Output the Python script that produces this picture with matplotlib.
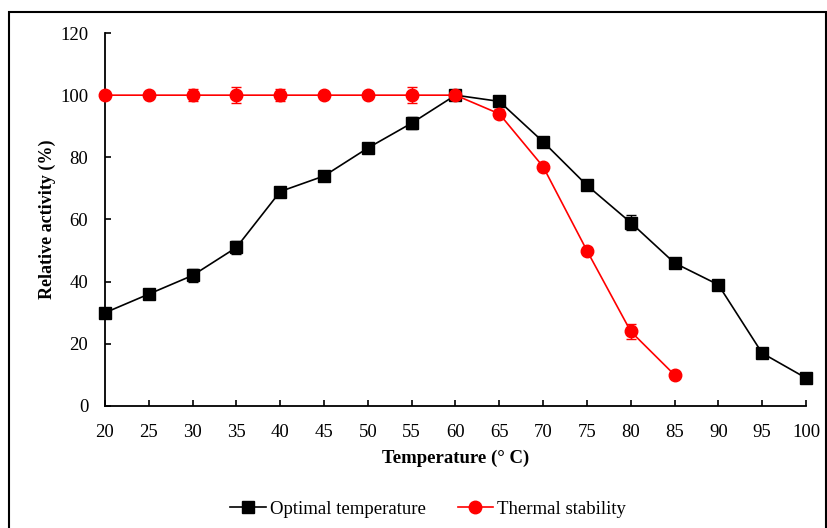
import matplotlib.pyplot as plt
from matplotlib.patches import Rectangle

# ========== DATA ==========
temperature = [20, 25, 30, 35, 40, 45, 50, 55, 60, 65, 70, 75, 80, 85, 90, 95, 100]
optimal = [30, 36, 42, 51, 69, 74, 83, 91, 100, 98, 85, 71, 59, 46, 39, 17, 9]
optimal_err = [1, 1, 2, 2, 1.5, 1, 1, 2, 1, 1, 1, 1, 2.5, 1, 1.5, 1, 1]

stab_temperature = [20, 25, 30, 35, 40, 45, 50, 55, 60, 65, 70, 75, 80, 85]
stability = [100, 100, 100, 100, 100, 100, 100, 100, 100, 94, 77, 50, 24, 10]
stability_err = [1, 1, 2, 2.5, 2, 1, 1, 2.5, 1, 1.5, 1, 1, 2.5, 1]

x_ticks = [20, 25, 30, 35, 40, 45, 50, 55, 60, 65, 70, 75, 80, 85, 90, 95, 100]
y_ticks = [0, 20, 40, 60, 80, 100, 120]
# ==========================

plt.rcParams['font.family'] = ['Liberation Serif', 'DejaVu Serif']

fig = plt.figure(figsize=(8.28, 5.28), dpi=100)
ax = fig.add_axes([0.1268, 0.2311, 0.8466, 0.7064])

ax.errorbar(temperature, optimal, yerr=optimal_err, color='black', marker='s',
            markersize=8.5, linewidth=1.2, capsize=3.5, elinewidth=1, capthick=1,
            label='Optimal temperature', clip_on=False, zorder=3)
ax.errorbar(stab_temperature, stability, yerr=stability_err, color='#FF0000', marker='o',
            markersize=9, linewidth=1.2, capsize=3.5, elinewidth=1, capthick=1,
            label='Thermal stability', clip_on=False, zorder=4)

ax.set_xlim(20, 100)
ax.set_ylim(0, 120)
ax.set_xticks(x_ticks)
ax.set_yticks(y_ticks)
ax.tick_params(direction='in', length=4, width=1.2, labelsize=13.5)
ax.tick_params(axis='x', pad=13)
ax.tick_params(axis='y', pad=12)
ax.spines['top'].set_visible(False)
ax.spines['right'].set_visible(False)
ax.spines['left'].set_linewidth(1.3)
ax.spines['bottom'].set_linewidth(1.3)

ax.set_xlabel('Temperature (° C)', fontsize=13.5, fontweight='bold', labelpad=6)
ax.set_ylabel('Relative activity (%)', fontsize=13, fontweight='bold', labelpad=3)

handles, labels = ax.get_legend_handles_labels()
handles = [h[0] for h in handles]
fig.legend(handles, labels, loc='center', bbox_to_anchor=(0.517, 0.036), ncol=2,
           frameon=False, fontsize=13.5, handlelength=1.9, columnspacing=1.7,
           handletextpad=0.2)

# outer frame around the figure
frame = Rectangle((0.011, -0.05), 0.986, 1.027, transform=fig.transFigure,
                  fill=False, edgecolor='black', linewidth=1.5, clip_on=False)
fig.patches.append(frame)

plt.savefig('out.png', dpi=100)
